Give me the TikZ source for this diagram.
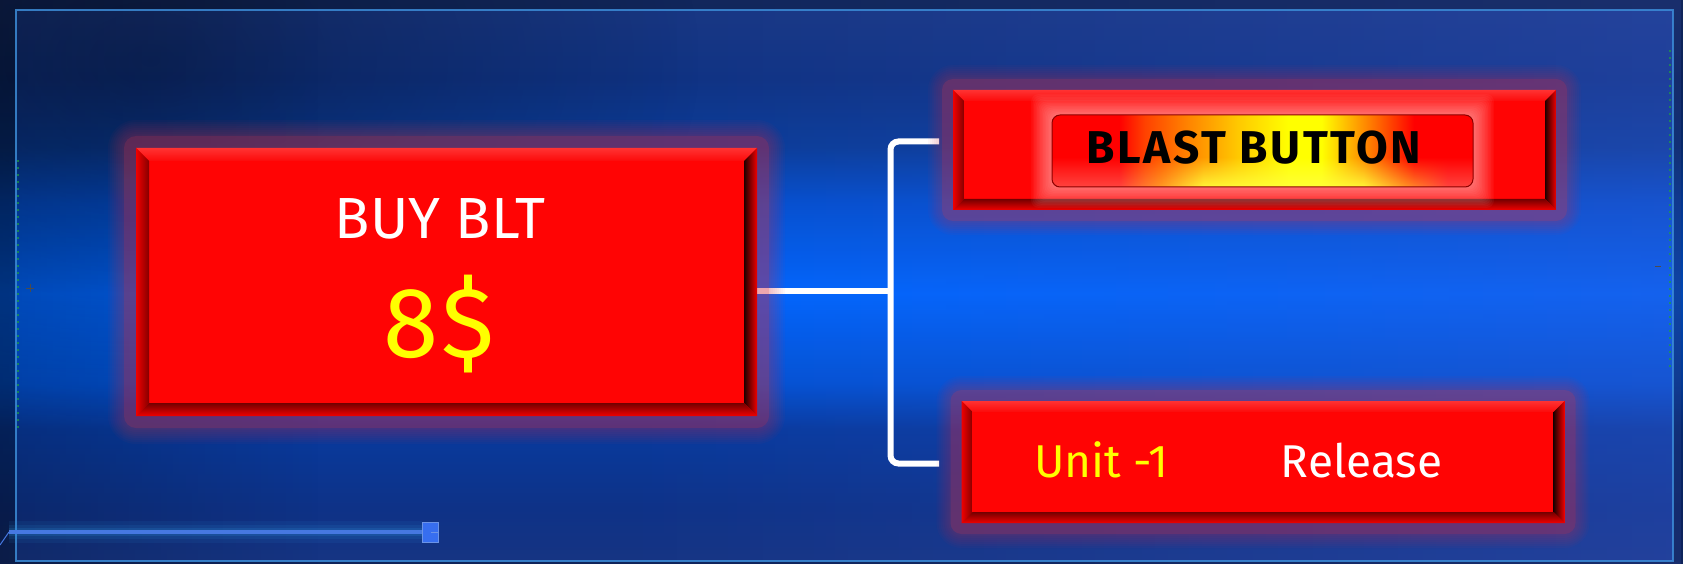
\documentclass[tikz,border=0pt]{standalone}
\usepackage{fontspec}
\setmainfont{Fira Sans}
\usetikzlibrary{fadings}
\definecolor{bg0}{RGB}{22,52,130}
\definecolor{bg10}{RGB}{14,50,135}
\definecolor{bg25}{RGB}{8,58,158}
\definecolor{bg35}{RGB}{3,82,212}
\definecolor{bg48}{RGB}{0,102,255}
\definecolor{bg60}{RGB}{4,80,208}
\definecolor{bg70}{RGB}{10,60,152}
\definecolor{bg85}{RGB}{15,50,130}
\definecolor{bg100}{RGB}{25,55,130}
\definecolor{tintR}{RGB}{60,90,205}
\definecolor{frameline}{RGB}{60,140,215}
\definecolor{boxred}{RGB}{255,4,4}
\definecolor{glowc}{RGB}{220,50,70}
\definecolor{bevhi}{RGB}{255,50,50}
\definecolor{bevtop}{RGB}{252,10,10}
\definecolor{bevleft}{RGB}{240,0,0}
\definecolor{bevdark}{RGB}{30,0,0}
\definecolor{bevbot}{RGB}{115,0,0}
\definecolor{txtyellow}{RGB}{255,255,0}
\definecolor{sliderc}{RGB}{70,120,225}
\definecolor{sliderbox}{RGB}{55,110,240}
\definecolor{greenspeck}{RGB}{30,160,60}
\definecolor{lowA}{RGB}{255,75,70}
\definecolor{lowB}{RGB}{255,160,40}
\definecolor{lowC}{RGB}{255,255,60}
\definecolor{btnorange}{RGB}{255,130,0}
\definecolor{btnamber}{RGB}{255,200,0}
\pgfdeclareverticalshading{bgsh}{100bp}{color(0bp)=(bg0); color(25bp)=(bg0); color(30bp)=(bg10); color(37bp)=(bg25); color(41bp)=(bg35); color(49bp)=(bg48); color(57bp)=(bg60); color(62bp)=(bg70); color(68bp)=(bg85); color(75bp)=(bg100); color(100bp)=(bg100)}
\pgfdeclarehorizontalshading{blastsh}{100bp}{color(0bp)=(red); color(33bp)=(red); color(36bp)=(btnorange!50!red); color(41bp)=(btnorange); color(47bp)=(btnamber); color(53bp)=(yellow); color(57bp)=(yellow); color(62.5bp)=(btnorange); color(68bp)=(red); color(100bp)=(red)}
\pgfdeclarehorizontalshading{blastlow}{100bp}{color(0bp)=(lowA); color(33bp)=(lowA); color(38bp)=(lowB); color(43bp)=(lowC); color(62bp)=(lowC); color(67bp)=(lowB); color(72bp)=(lowA); color(100bp)=(lowA)}
\tikzfading[name=fadetoright, left color=transparent!100, right color=transparent!0]
\tikzfading[name=fadetoleft, left color=transparent!0, right color=transparent!100]
\tikzfading[name=fadeup, top color=transparent!100, bottom color=transparent!0]
\tikzfading[name=radfade, inner color=transparent!0, outer color=transparent!100]
\newcommand\bevelbox[2]{%
  \fill[boxred] (#1.north west) rectangle (#1.south east);
  \shade[top color=bevhi, bottom color=bevtop] (#1.north west) -- (#1.north east) -- ([shift={(-#2,#2)}]#1.north east) -- ([shift={(#2,#2)}]#1.north west) -- cycle;
  \shade[left color=bevleft, middle color=bevleft!95!black, right color=bevleft!55!black] (#1.north west) -- ([shift={(#2,#2)}]#1.north west) -- ([shift={(#2,-#2)}]#1.south west) -- (#1.south west) -- cycle;
  \shade[left color=bevdark, middle color=red!60!black, right color=bevleft] ([shift={(-#2,#2)}]#1.north east) -- (#1.north east) -- (#1.south east) -- ([shift={(-#2,-#2)}]#1.south east) -- cycle;
  \shade[top color=bevbot, middle color=bevleft!85!black, bottom color=bevleft] ([shift={(#2,-#2)}]#1.south west) -- ([shift={(-#2,-#2)}]#1.south east) -- (#1.south east) -- (#1.south west) -- cycle;
}
\newcommand\glowaround[4]{% node, color, list, opacity
  \foreach \g in {#3}{%
    \fill[#2, opacity=#4, rounded corners=\g pt] ([shift={(-\g,-\g)}]#1.north west) rectangle ([shift={(\g,\g)}]#1.south east);
  }%
}
\begin{document}
\begin{tikzpicture}[x=1pt,y=-1pt,
  boxshape/.style={rectangle, draw=none, inner sep=0pt, outer sep=0pt},
  conn/.style={draw=white, line width=6pt},
  lbl/.style={inner sep=0pt, anchor=base}]
\useasboundingbox (0,0) rectangle (1683,564);
% background
\shade[shading=bgsh] (0,0) rectangle (1683,564);
\fill[tintR, path fading=fadetoright, fit fading=true, opacity=0.35] (600,0) rectangle (1683,564);
\fill[black, path fading=radfade, fit fading=true, opacity=0.3] (-400,-300) rectangle (700,420);
\fill[black, path fading=fadetoleft, fit fading=true, opacity=0.2] (0,0) rectangle (320,564);
\fill[black, opacity=0.3, even odd rule] (0,0) rectangle (1683,564) (16,10) rectangle (1673,561);
\draw[frameline, line width=1.5pt, opacity=0.85] (16,10) rectangle (1673,561);
\draw[greenspeck, line width=1.3pt, dash pattern=on 2pt off 5pt, opacity=0.7] (18,160) -- (18,430);
\draw[greenspeck, line width=1.3pt, dash pattern=on 2pt off 5pt, opacity=0.7] (1670,50) -- (1670,370);
\draw[black!70, line width=0.8pt] (26,288) -- (34,288) (30,284) -- (30,292);
\draw[black!70, line width=0.8pt] (1655,266) -- (1661,266);

% nodes (shapes only)
\node[boxshape, minimum width=621pt, minimum height=268pt] (buy) at (446.5,282) {};
\node[boxshape, minimum width=603pt, minimum height=120pt] (blast) at (1254.5,150) {};
\node[boxshape, minimum width=603pt, minimum height=122pt] (rel) at (1263,462) {};
\node[boxshape, minimum width=421pt, minimum height=72pt] (btn) at (1262.5,151) {};

% connectors
\coordinate (jm) at (890.5,291);
\coordinate (jt) at (890.5,141.5);
\coordinate (jb) at (890.5,463.5);
\coordinate (tend) at (939,141.5);
\coordinate (bend) at (939,463.5);
\draw[conn] (buy.east |- jm) -- (jm);
\draw[conn, rounded corners=8pt] (tend) -- (jt) -- (jb) -- (bend);

% glows
\glowaround{buy}{glowc}{12}{0.2}
\glowaround{buy}{glowc}{14,16,...,28}{0.04}
\glowaround{blast}{glowc}{11}{0.2}
\glowaround{blast}{glowc}{13,15,...,25}{0.04}
\glowaround{rel}{glowc}{11}{0.2}
\glowaround{rel}{glowc}{13,15,...,25}{0.04}

% boxes
\bevelbox{buy}{13}
\bevelbox{blast}{11}
\bevelbox{rel}{11}

% inner blast button
\foreach \g in {1.5,3,...,21}{%
  \fill[white, opacity=0.04, rounded corners=8pt] ([shift={(-\g,-\g)}]btn.north west) rectangle ([shift={(\g,\g)}]btn.south east);
}
\begin{scope}
\clip[rounded corners=8pt] (btn.north west) rectangle (btn.south east);
\shade[shading=blastsh] (btn.north west) rectangle (btn.south east);
\shade[shading=blastlow, path fading=fadeup, fit fading=true, opacity=0.9] ([yshift=-6]btn.west) rectangle (btn.south east);
\fill[white, opacity=0.12] (btn.north west) rectangle ([yshift=5]btn.north east);
\end{scope}
\draw[red!55!black, line width=1pt, rounded corners=8pt] (btn.north west) rectangle (btn.south east);

% texts
\node[lbl, text=white] (buytxt) at (440,238.5) {\fontsize{58}{60}\selectfont BUY BLT};
\node[lbl, text=txtyellow] (price) at (439,357.5) {\fontsize{100}{100}\selectfont\addfontfeature{LetterSpace=3}8\$};
\node[lbl, text=black] (blasttxt) at (1254,164) {\fontsize{46}{48}\selectfont\bfseries\addfontfeature{LetterSpace=5.5}BLAST BUTTON};
\node[lbl, text=txtyellow] (unit) at (1101.5,477.7) {\fontsize{46}{48}\selectfont Unit -1};
\node[lbl, text=white] (reltxt) at (1361.5,477.7) {\fontsize{46}{48}\selectfont Release};

% slider
\foreach \w/\o in {22/0.08,14/0.1,8/0.15}{%
  \draw[sliderc!70!cyan, line width=\w pt, opacity=\o] (9,532) -- (422,532);
}
\node[draw=sliderc!80!white, fill=sliderbox, line width=1pt, minimum width=16pt, minimum height=20pt, inner sep=0pt] (knob) at (430,532) {};
\coordinate (sstart) at (9,532);
\coordinate (scorner) at (0,545);
\draw[sliderc, line width=1pt] (scorner) -- (sstart);
\draw[sliderc, line width=4pt] (sstart) -- (knob.west);
\draw[sliderc!80!white, line width=1pt] (knob.east) -- ++(-8,0);
\end{tikzpicture}
\end{document}
